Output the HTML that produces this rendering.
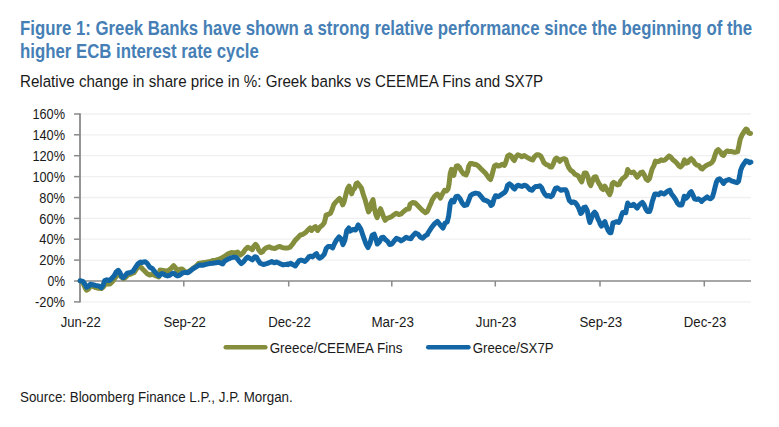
<!DOCTYPE html>
<html lang="en">
<head>
<meta charset="utf-8">
<title>Figure 1: Greek Banks relative performance</title>
<style>
html,body{margin:0;padding:0;background:#fff;}
body{width:779px;height:427px;position:relative;overflow:hidden;font-family:"Liberation Sans",Arial,sans-serif;}
.fig{position:absolute;left:0;top:0;width:779px;height:427px;}
h1{position:absolute;left:20.2px;top:16.7px;margin:0;font-size:19.7px;line-height:23.6px;font-weight:bold;color:#467fb6;white-space:nowrap;transform:scaleX(0.8524);transform-origin:0 0;letter-spacing:0;}
p.sub{position:absolute;left:20.4px;top:71.1px;margin:0;font-size:17.4px;line-height:20px;color:#1a1a1a;white-space:nowrap;transform:scaleX(0.8702);transform-origin:0 0;}
p.src{position:absolute;left:19.6px;top:388.1px;margin:0;font-size:15.2px;line-height:18px;color:#1a1a1a;white-space:nowrap;transform:scaleX(0.8795);transform-origin:0 0;}
svg{position:absolute;left:0;top:0;}
svg text{font-family:"Liberation Sans",Arial,sans-serif;font-size:15.3px;fill:#1a1a1a;}
</style>
</head>
<body>
<div class="fig">
<h1>Figure 1: Greek Banks have shown a strong relative performance since the beginning of the<br>higher ECB interest rate cycle</h1>
<p class="sub">Relative change in share price in %: Greek banks vs CEEMEA Fins and SX7P</p>
<svg width="779" height="427" viewBox="0 0 779 427">
<g class="grid">
<line x1="81" y1="301.9" x2="751" y2="301.9" stroke="#f0f0f0" stroke-width="1.3"/>
<line x1="81" y1="260.1" x2="751" y2="260.1" stroke="#f0f0f0" stroke-width="1.3"/>
<line x1="81" y1="239.2" x2="751" y2="239.2" stroke="#f0f0f0" stroke-width="1.3"/>
<line x1="81" y1="218.4" x2="751" y2="218.4" stroke="#f0f0f0" stroke-width="1.3"/>
<line x1="81" y1="197.5" x2="751" y2="197.5" stroke="#f0f0f0" stroke-width="1.3"/>
<line x1="81" y1="176.6" x2="751" y2="176.6" stroke="#f0f0f0" stroke-width="1.3"/>
<line x1="81" y1="155.7" x2="751" y2="155.7" stroke="#f0f0f0" stroke-width="1.3"/>
<line x1="81" y1="134.8" x2="751" y2="134.8" stroke="#f0f0f0" stroke-width="1.3"/>
<line x1="81" y1="114.0" x2="751" y2="114.0" stroke="#f0f0f0" stroke-width="1.3"/>
</g>
<g class="axes">
<line x1="80" y1="113.3" x2="80" y2="302.6" stroke="#8a8a8a" stroke-width="1.8"/>
<line x1="80" y1="281" x2="751" y2="281" stroke="#8a8a8a" stroke-width="1.5"/>
<line x1="74" y1="301.9" x2="80" y2="301.9" stroke="#8a8a8a" stroke-width="1.5"/>
<line x1="74" y1="281.0" x2="80" y2="281.0" stroke="#8a8a8a" stroke-width="1.5"/>
<line x1="74" y1="260.1" x2="80" y2="260.1" stroke="#8a8a8a" stroke-width="1.5"/>
<line x1="74" y1="239.2" x2="80" y2="239.2" stroke="#8a8a8a" stroke-width="1.5"/>
<line x1="74" y1="218.4" x2="80" y2="218.4" stroke="#8a8a8a" stroke-width="1.5"/>
<line x1="74" y1="197.5" x2="80" y2="197.5" stroke="#8a8a8a" stroke-width="1.5"/>
<line x1="74" y1="176.6" x2="80" y2="176.6" stroke="#8a8a8a" stroke-width="1.5"/>
<line x1="74" y1="155.7" x2="80" y2="155.7" stroke="#8a8a8a" stroke-width="1.5"/>
<line x1="74" y1="134.8" x2="80" y2="134.8" stroke="#8a8a8a" stroke-width="1.5"/>
<line x1="74" y1="114.0" x2="80" y2="114.0" stroke="#8a8a8a" stroke-width="1.5"/>
<line x1="183.8" y1="281" x2="183.8" y2="286.5" stroke="#8a8a8a" stroke-width="1.5"/>
<line x1="288.7" y1="281" x2="288.7" y2="286.5" stroke="#8a8a8a" stroke-width="1.5"/>
<line x1="391.8" y1="281" x2="391.8" y2="286.5" stroke="#8a8a8a" stroke-width="1.5"/>
<line x1="495.3" y1="281" x2="495.3" y2="286.5" stroke="#8a8a8a" stroke-width="1.5"/>
<line x1="600.0" y1="281" x2="600.0" y2="286.5" stroke="#8a8a8a" stroke-width="1.5"/>
<line x1="704.3" y1="281" x2="704.3" y2="286.5" stroke="#8a8a8a" stroke-width="1.5"/>
</g>
<g class="ylabels">
<text x="35.0" y="307.0" textLength="30.0" lengthAdjust="spacingAndGlyphs">-20%</text>
<text x="47.4" y="286.1" textLength="17.6" lengthAdjust="spacingAndGlyphs">0%</text>
<text x="39.3" y="265.2" textLength="25.7" lengthAdjust="spacingAndGlyphs">20%</text>
<text x="39.3" y="244.3" textLength="25.7" lengthAdjust="spacingAndGlyphs">40%</text>
<text x="39.3" y="223.5" textLength="25.7" lengthAdjust="spacingAndGlyphs">60%</text>
<text x="39.3" y="202.6" textLength="25.7" lengthAdjust="spacingAndGlyphs">80%</text>
<text x="32.4" y="181.7" textLength="32.6" lengthAdjust="spacingAndGlyphs">100%</text>
<text x="32.4" y="160.8" textLength="32.6" lengthAdjust="spacingAndGlyphs">120%</text>
<text x="32.4" y="139.9" textLength="32.6" lengthAdjust="spacingAndGlyphs">140%</text>
<text x="32.4" y="119.1" textLength="32.6" lengthAdjust="spacingAndGlyphs">160%</text>
</g>
<g class="xlabels">
<text x="60.8" y="326.7" textLength="40.0" lengthAdjust="spacingAndGlyphs">Jun-22</text>
<text x="163.4" y="326.7" textLength="42.5" lengthAdjust="spacingAndGlyphs">Sep-22</text>
<text x="268.2" y="326.7" textLength="42.6" lengthAdjust="spacingAndGlyphs">Dec-22</text>
<text x="371.4" y="326.7" textLength="42.5" lengthAdjust="spacingAndGlyphs">Mar-23</text>
<text x="475.8" y="326.7" textLength="40.6" lengthAdjust="spacingAndGlyphs">Jun-23</text>
<text x="579.4" y="326.7" textLength="42.8" lengthAdjust="spacingAndGlyphs">Sep-23</text>
<text x="683.8" y="326.7" textLength="42.5" lengthAdjust="spacingAndGlyphs">Dec-23</text>
</g>
<g class="series" fill="none" stroke-linejoin="round" stroke-linecap="round">
<polyline stroke="#848e3c" stroke-width="5.0" points="80.1,280.8 82.9,282.7 85.0,287.6 86.6,290.2 88.7,288.8 90.3,285.9 92.8,286.3 95.7,287.6 98.5,288.2 101.4,288.6 103.5,286.8 105.5,283.9 107.6,283.9 110.0,283.9 112.5,281.4 115.0,278.1 117.0,275.3 118.7,274.4 120.3,275.7 122.0,277.7 123.6,278.5 125.7,277.3 128.1,274.8 131.4,273.8 133.9,272.8 136.3,269.1 138.8,266.2 140.9,267.4 142.0,268.3 142.0,268.5 144.6,271.1 147.2,273.7 149.7,275.0 152.3,274.3 155.5,275.6 158.8,276.9 160.0,270.1 163.3,270.5 167.4,271.3 170.7,268.8 173.6,265.7 175.6,268.0 177.3,270.9 179.7,269.2 182.2,269.0 184.7,271.3 187.1,272.4 190.4,270.5 192.9,268.4 196.2,266.2 198.6,263.5 202.7,262.7 206.0,262.3 209.3,261.8 212.6,260.6 215.9,260.2 219.2,259.0 221.6,258.1 222.8,257.3 224.0,256.7 228.1,253.8 231.4,252.5 234.7,253.0 237.6,252.1 240.4,255.0 242.9,253.0 245.4,249.3 247.8,247.2 250.3,248.4 252.3,249.7 253.6,246.4 255.6,244.3 257.3,246.4 258.5,249.7 261.0,252.5 262.6,251.7 264.3,249.3 266.7,247.6 269.2,246.8 271.7,248.0 274.9,248.4 277.4,247.2 279.9,246.4 282.3,247.6 284.8,248.0 288.0,248.0 290.1,247.2 292.7,244.0 295.3,240.1 297.9,237.6 300.4,235.0 303.0,234.3 305.6,232.4 308.2,229.8 310.1,227.9 311.6,230.5 313.7,227.9 315.5,226.6 317.6,230.5 319.8,227.2 322.3,225.3 324.3,222.7 325.6,217.6 326.0,215.1 327.9,214.5 330.5,213.2 332.4,208.7 333.7,204.8 335.6,202.2 337.6,200.3 339.5,198.4 341.4,201.6 342.7,204.8 344.0,202.2 345.9,194.5 347.5,188.7 349.1,186.1 350.4,190.6 351.7,193.8 353.0,190.0 354.9,188.0 356.2,183.5 357.5,182.9 359.5,185.5 361.4,188.0 363.3,194.5 365.3,200.3 367.2,207.4 368.5,211.9 369.8,209.9 371.4,202.9 373.0,199.6 374.3,207.4 375.6,213.8 377.1,217.7 378.8,212.5 380.5,208.7 382.0,212.5 383.9,217.7 385.2,220.3 387.2,218.3 389.1,217.7 391.0,217.0 393.6,215.1 396.2,213.2 398.8,214.5 401.3,213.8 403.9,211.2 406.5,209.3 409.1,208.7 410.0,204.3 412.6,202.4 415.2,203.0 417.7,205.6 420.3,208.2 422.9,210.8 425.5,212.7 427.4,211.4 429.3,206.9 431.3,202.4 432.1,200.2 434.7,196.1 437.3,194.0 438.8,195.6 440.4,198.1 442.4,194.0 444.5,190.4 446.5,190.9 448.1,188.9 449.1,183.7 450.2,173.4 451.5,169.3 452.7,172.4 453.8,175.5 455.0,170.3 456.3,166.2 457.9,165.7 459.4,167.2 461.5,171.3 463.6,173.9 466.1,174.9 467.7,171.3 468.7,166.2 470.3,163.6 472.3,163.6 475.0,164.6 475.7,164.2 478.3,166.1 480.9,168.7 483.5,171.3 486.0,173.8 488.6,177.7 490.5,179.6 491.8,175.8 493.1,170.6 494.4,166.1 496.3,164.8 498.3,166.1 500.2,165.5 502.1,164.2 504.1,165.5 505.0,164.5 506.3,160.6 507.6,156.1 509.5,154.8 511.4,156.1 513.0,159.3 514.3,160.6 516.0,156.8 517.9,154.8 519.8,155.5 521.8,156.8 524.3,155.5 526.3,156.8 528.2,158.0 530.8,159.3 532.7,160.0 534.4,156.8 536.6,154.8 538.8,154.8 540.8,156.1 542.4,159.3 543.9,162.6 546.0,164.5 548.2,165.1 550.1,167.1 551.6,167.1 553.3,163.8 555.0,159.3 556.5,158.0 558.1,159.3 559.8,161.3 561.7,159.3 564.0,158.7 565.8,159.3 567.1,163.8 568.8,167.7 570.7,170.3 572.7,171.6 574.6,174.1 576.5,174.8 578.5,176.1 580.4,179.9 581.7,181.9 583.0,177.4 584.3,172.9 586.2,172.9 588.1,177.4 589.4,183.2 590.7,185.7 592.4,181.2 593.9,177.4 595.9,176.7 597.1,179.9 599.1,183.8 600.0,184.9 601.5,188.2 603.2,189.5 604.9,186.2 606.4,188.8 608.0,192.0 609.7,194.6 611.0,191.4 612.2,183.7 613.5,182.4 615.5,183.7 617.4,184.9 619.3,184.3 620.6,181.1 622.6,178.5 624.5,177.2 626.4,175.3 627.7,169.5 629.4,172.1 631.6,172.7 633.5,172.1 635.4,174.6 637.1,177.2 638.7,175.3 640.6,172.7 642.5,172.1 644.5,175.3 646.1,179.1 647.7,180.4 649.6,178.5 650.9,173.4 652.2,168.8 653.9,165.6 655.4,161.1 657.3,161.8 659.3,161.1 661.2,159.8 663.1,160.5 665.1,159.8 667.0,157.9 668.9,156.0 670.9,157.2 672.8,159.8 674.7,161.1 676.7,163.0 678.6,165.6 680.5,166.9 682.5,165.0 684.4,159.9 686.1,163.2 688.0,162.5 689.6,159.9 691.2,158.7 693.2,160.6 695.1,163.8 697.0,165.1 699.0,165.7 700.9,168.3 702.2,169.0 704.1,167.0 706.1,165.7 708.0,164.5 709.9,163.8 711.9,162.5 713.5,159.9 715.1,154.8 716.6,150.9 718.3,149.6 720.2,151.6 722.2,154.8 723.5,155.4 725.4,152.2 727.3,150.9 729.3,151.6 731.8,151.6 733.8,152.2 735.7,152.2 737.6,151.6 738.9,145.8 740.2,139.3 742.1,134.8 744.1,131.6 746.0,129.0 747.3,129.7 748.6,132.9 750.5,133.5"/>
<polyline stroke="#1266a6" stroke-width="5.0" points="80.1,280.8 82.9,281.4 85.0,284.3 86.6,287.2 88.7,286.3 90.3,284.3 92.8,284.7 95.7,285.5 98.5,285.9 101.4,287.6 103.1,285.1 104.7,280.6 106.8,279.8 109.2,280.6 111.7,278.5 114.2,275.7 116.2,272.0 118.3,270.3 119.9,272.4 121.5,276.5 123.2,277.7 125.2,275.7 127.3,273.2 130.6,272.4 133.1,271.1 135.5,267.4 138.0,263.8 140.4,262.1 142.0,262.5 142.7,262.1 145.2,261.7 147.2,263.4 149.7,267.2 152.3,268.5 153.7,270.4 156.3,273.5 158.9,275.8 160.4,274.8 162.0,273.6 163.8,274.2 165.6,275.3 167.6,275.9 169.7,275.3 171.3,274.1 172.8,273.3 174.4,273.7 175.9,275.0 177.4,275.9 179.5,275.3 182.1,273.2 184.1,272.5 186.0,272.6 187.9,272.7 190.4,270.9 192.9,268.8 196.2,266.8 199.4,264.9 202.7,265.2 206.0,264.4 209.3,263.6 212.6,263.2 215.9,262.7 219.2,262.3 221.6,263.6 222.8,264.0 224.0,261.6 227.3,259.5 230.6,257.9 233.9,257.1 236.3,257.5 238.8,260.8 241.3,263.6 243.7,261.6 246.2,258.3 247.8,257.1 250.3,258.7 252.3,259.9 254.8,256.7 256.5,257.1 258.1,260.3 260.2,263.2 263.4,264.5 266.7,263.6 270.0,262.4 271.7,261.6 274.1,262.8 276.6,262.0 279.9,263.6 283.2,264.9 288.0,264.0 288.2,264.6 290.8,263.3 292.7,264.6 295.3,265.9 297.2,263.3 299.1,260.7 301.1,260.1 303.0,260.7 304.9,261.4 306.9,259.5 308.8,256.9 310.7,256.2 312.7,256.9 314.6,254.9 316.5,253.7 318.1,256.9 319.8,258.2 321.7,256.9 324.3,254.3 326.2,248.5 328.1,246.6 330.7,246.6 332.7,247.9 334.6,243.4 336.5,240.1 339.1,236.9 341.0,238.8 343.0,244.6 344.9,240.1 346.8,230.5 348.8,227.9 350.0,231.1 353.1,229.5 355.7,230.0 358.2,224.9 360.8,229.0 363.4,236.7 366.0,244.0 368.0,247.6 370.1,242.9 372.2,235.2 374.2,234.2 375.8,238.8 377.3,244.0 379.4,241.9 381.4,237.8 383.5,237.3 385.6,239.8 387.6,241.4 389.7,244.5 391.8,244.0 393.8,241.4 396.4,238.3 399.0,239.3 401.0,240.9 403.6,239.3 406.2,237.3 408.8,238.3 410.8,238.8 412.9,235.7 415.5,233.1 418.0,234.2 420.6,237.3 422.7,238.3 424.7,236.2 427.3,234.7 428.1,232.8 431.2,228.1 434.3,224.0 437.4,221.4 439.9,224.5 443.0,228.1 445.1,223.0 447.2,222.0 448.7,215.8 450.3,203.4 451.8,200.3 453.9,201.9 455.9,196.7 458.0,196.2 460.1,198.8 462.1,202.9 464.2,205.5 466.8,204.9 468.8,200.3 470.4,195.7 472.4,194.1 475.5,193.1 478.6,193.6 481.2,196.7 483.8,199.8 486.9,200.8 489.4,202.4 491.0,205.5 492.5,204.4 494.1,198.8 495.6,195.7 498.2,196.7 501.3,194.6 505.0,192.1 506.3,189.7 507.6,185.2 509.5,183.9 511.4,185.2 513.0,187.7 514.7,189.0 516.3,186.4 517.9,185.2 519.8,185.8 521.8,186.4 524.3,185.2 526.3,185.8 528.2,187.7 530.1,189.7 532.1,190.3 534.0,187.7 535.9,186.4 537.9,186.4 539.8,185.8 541.7,187.7 543.0,191.0 544.9,194.2 546.9,196.1 548.8,195.5 550.7,196.8 552.4,195.5 554.0,191.6 555.5,188.4 557.2,187.7 559.1,189.0 561.1,190.3 563.0,189.7 565.6,189.7 566.9,192.2 568.1,196.8 569.4,200.6 571.4,202.6 573.3,201.9 575.2,202.6 577.2,205.1 579.1,209.0 580.8,213.5 582.1,212.2 583.6,207.7 585.5,207.1 587.2,210.3 588.5,217.4 589.8,222.5 591.3,218.7 592.9,214.1 594.6,212.2 596.2,214.1 597.8,218.7 599.7,222.5 600.0,223.7 601.5,226.2 603.2,223.7 604.9,221.7 606.4,226.2 608.0,230.1 609.7,232.7 611.0,232.7 611.9,228.8 612.9,223.0 614.8,222.4 616.8,221.7 618.7,222.4 620.0,220.4 621.3,215.9 622.6,212.7 624.5,212.1 625.8,212.7 626.8,206.9 627.7,203.0 629.4,205.6 631.6,205.6 633.5,204.3 635.4,206.3 637.1,208.2 638.7,205.6 640.6,203.7 642.3,202.4 643.8,204.3 645.7,208.8 647.4,211.4 649.6,211.4 650.9,207.6 652.2,201.8 653.5,197.9 654.8,194.0 656.7,194.0 658.6,194.7 660.6,192.7 662.5,193.4 664.4,194.0 666.4,192.1 668.3,190.8 669.8,190.2 671.5,194.0 673.5,196.6 675.4,199.2 677.3,203.0 679.3,205.0 681.8,205.0 683.1,201.1 684.2,196.2 686.1,198.2 688.0,196.2 689.6,193.0 691.2,191.7 692.9,194.9 694.5,198.8 696.4,199.5 698.3,198.8 700.3,200.1 701.6,201.4 703.5,199.5 705.4,198.2 707.1,196.9 708.6,198.2 710.6,198.8 712.5,196.9 713.8,192.4 715.1,187.2 716.4,182.1 717.7,179.5 719.6,178.8 721.5,180.8 723.5,183.4 725.4,180.8 727.3,180.1 729.3,179.5 731.2,180.8 733.1,181.4 735.1,182.1 737.0,182.7 738.5,181.4 739.6,176.3 740.6,170.5 742.1,166.6 744.1,163.4 746.0,160.8 747.9,161.4 749.6,162.7 750.9,162.1"/>
</g>
<g class="legend">
<line x1="225.7" y1="347.2" x2="265.4" y2="347.2" stroke="#848e3c" stroke-width="4.4" stroke-linecap="round"/>
<text x="269.7" y="352.6" textLength="132.7" lengthAdjust="spacingAndGlyphs">Greece/CEEMEA Fins</text>
<line x1="428.2" y1="347.2" x2="468.5" y2="347.2" stroke="#1266a6" stroke-width="4.4" stroke-linecap="round"/>
<text x="472.8" y="352.6" textLength="80.8" lengthAdjust="spacingAndGlyphs">Greece/SX7P</text>
</g>
</svg>
<p class="src">Source: Bloomberg Finance L.P., J.P. Morgan.</p>
</div>
</body>
</html>
